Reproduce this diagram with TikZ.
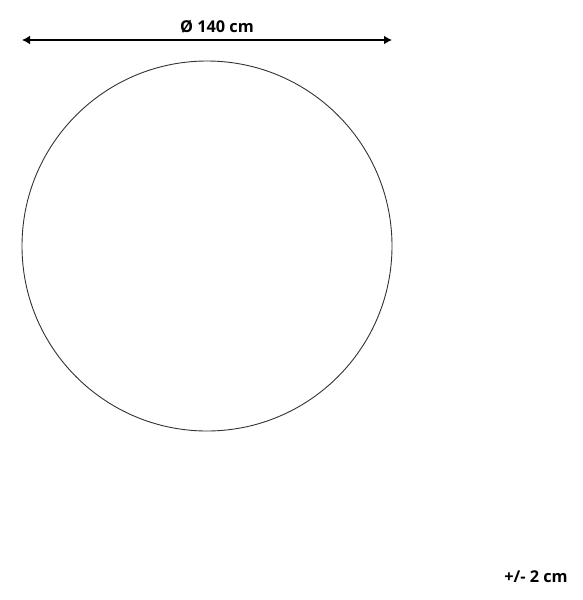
\documentclass[tikz,border=0pt]{standalone}
\usepackage{fontspec}
\setmainfont{Open Sans}
\usetikzlibrary{arrows.meta}
\tikzset{
  dimline/.style={line width=2.2pt, {Latex[length=8pt,width=9pt]}-{Latex[length=8pt,width=9pt]}},
  dimlabel/.style={font=\fontsize{16.3}{18}\selectfont\bfseries, inner sep=0pt}
}
\begin{document}
\begin{tikzpicture}[x=1pt,y=-1pt]
  \useasboundingbox (0,0) rectangle (582,600);
  \pgfmathsetmacro{\r}{185};
  \coordinate (centre) at (207,246);
  \draw [line width=0.9pt, black!80] (centre) circle [radius=\r pt];
  \coordinate (dimleft) at (22,40);
  \coordinate (dimright) at (392,40);
  \draw [dimline] (dimleft) -- (dimright);
  \node [dimlabel] (diam) at (217,27) {Ø 140 cm};
  \node [dimlabel] (tol) at (536,577) {+/- 2 cm};
\end{tikzpicture}
\end{document}
